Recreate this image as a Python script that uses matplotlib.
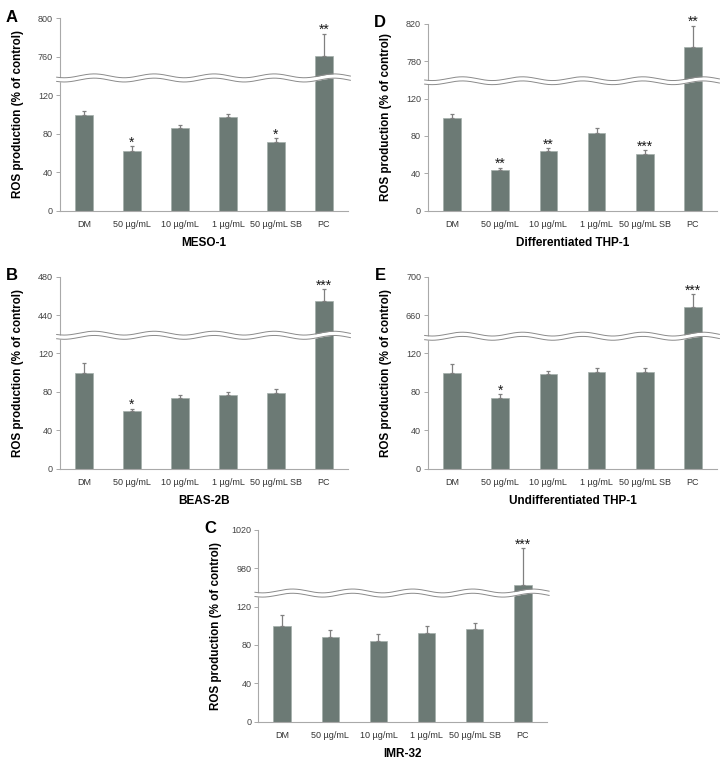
import numpy as np
import matplotlib
matplotlib.use('Agg')
import matplotlib.pyplot as plt

plt.rcParams['font.family'] = ['Liberation Sans', 'DejaVu Sans']

cats = ['DM', '50 µg/mL', '10 µg/mL', '1 µg/mL', '50 µg/mL SB', 'PC']

# panel A - MESO-1
meso_val = [100, 62, 86, 97, 71, 761]
meso_err = [3.5, 5, 3.5, 3.8, 4.5, 23]
meso_sig = ['', '*', '', '', '*', '**']
meso_ticks = ['0', '40', '80', '120', '760', '800']

# panel D - Differentiated THP-1
dthp_val = [99.5, 43, 64, 83.5, 60.5, 795]
dthp_err = [3.5, 3.2, 3, 4.5, 4.3, 23]
dthp_sig = ['', '**', '**', '', '***', '**']
dthp_ticks = ['0', '40', '80', '120', '780', '820']

# panel B - BEAS-2B
beas_val = [100, 60, 74, 77, 79, 454.5]
beas_err = [9.7, 2.4, 3.2, 3.1, 3.8, 12.5]
beas_sig = ['', '*', '', '', '', '***']
beas_ticks = ['0', '40', '80', '120', '440', '480']

# panel E - Undifferentiated THP-1
uthp_val = [99.6, 74, 99, 101, 101, 668.5]
uthp_err = [9.7, 3.5, 3.1, 3.5, 4.2, 13]
uthp_sig = ['', '*', '', '', '', '***']
uthp_ticks = ['0', '40', '80', '120', '660', '700']

# panel C - IMR-32
imr_val = [100, 88, 84, 92.5, 97, 962]
imr_err = [10.8, 7.3, 7.7, 6.9, 5.9, 39]
imr_sig = ['', '', '', '', '', '***']
imr_ticks = ['0', '40', '80', '120', '980', '1020']

panels = [
    # letter, title, values, errors, stars, ticks, (left, top, bottom, right) px, break
    ('A', 'MESO-1', meso_val, meso_err, meso_sig, meso_ticks, (60, 18.3, 210.7, 348), 138),
    ('D', 'Differentiated THP-1', dthp_val, dthp_err, dthp_sig, dthp_ticks, (428, 23.7, 210.7, 717), 139),
    ('B', 'BEAS-2B', beas_val, beas_err, beas_sig, beas_ticks, (60, 276.7, 468.7, 348), 139),
    ('E', 'Undifferentiated THP-1', uthp_val, uthp_err, uthp_sig, uthp_ticks, (428, 276.7, 468.7, 717), 138),
    ('C', 'IMR-32', imr_val, imr_err, imr_sig, imr_ticks, (258.3, 529.7, 721.7, 546.7), 134),
]

W, H = 721, 768
fig = plt.figure(figsize=(W / 100, H / 100), dpi=100)

barcol = '#6c7a75'
axcol = '#a9a9a9'

for letter, title, vals, errs, sigs, ticks, box, brk in panels:
    l, t, b, r = box
    ax = fig.add_axes([l / W, 1 - b / H, (r - l) / W, (b - t) / H])
    # values above the break are shifted down so the upper tick sits at 160
    offset = float(ticks[4]) - 160
    yplot = [v - offset if v > 160 else v for v in vals]
    x = np.arange(len(cats))
    ax.bar(x, yplot, width=0.37, color=barcol, edgecolor='#a3aeaa', linewidth=0.5, zorder=2)
    ax.errorbar(x, yplot, yerr=[np.zeros(len(errs)), errs], fmt='none',
                ecolor='#808080', elinewidth=0.9, capsize=1.5, capthick=0.9, zorder=2)
    for xi, yi, e, s in zip(x, yplot, errs, sigs):
        if s:
            ax.text(xi, yi + e - 0.5, s, ha='center', va='baseline', fontsize=10, color='#1a1a1a')

    ax.set_xlim(-0.5, 5.5)
    ax.set_ylim(0, 200)
    ax.set_yticks([0, 40, 80, 120, 160, 200])
    ax.set_yticklabels(ticks)
    ax.set_xticks(x)
    ax.set_xticklabels(cats)
    ax.tick_params(axis='y', length=3, width=0.7, color=axcol, labelsize=6.5, labelcolor='#444444', pad=2)
    ax.tick_params(axis='x', length=0, labelsize=6.5, labelcolor='#333333', pad=7)
    for sp in ['top', 'right']:
        ax.spines[sp].set_visible(False)
    for sp in ['left', 'bottom']:
        ax.spines[sp].set_color(axcol)
        ax.spines[sp].set_linewidth(0.8)

    ax.set_ylabel('ROS production (% of control)', fontsize=8.4, fontweight='bold')
    ax.yaxis.set_label_coords(-36 / (r - l), 0.5)
    ax.text(0.5, -32 / (b - t), title, transform=ax.transAxes, ha='center', va='center',
            fontsize=8.5, fontweight='bold')
    fig.text((l - 48) / W, 1 - (t - 1) / H, letter, ha='center', va='center',
             fontsize=12, fontweight='bold')

    # wavy axis break
    xw = np.linspace(-0.57, 5.55, 400)
    wave = brk + 2.0 * np.sin(2 * np.pi * (xw + 0.1) / 1.25)
    gap = 2.2
    ax.fill_between(xw, wave - gap, wave + gap, color='white', zorder=5, clip_on=False, linewidth=0)
    ax.plot(xw, wave + gap, color='#8a8a8a', lw=0.7, zorder=6, clip_on=False)
    ax.plot(xw, wave - gap, color='#8a8a8a', lw=0.7, zorder=6, clip_on=False)

fig.savefig('out.png', dpi=100)
